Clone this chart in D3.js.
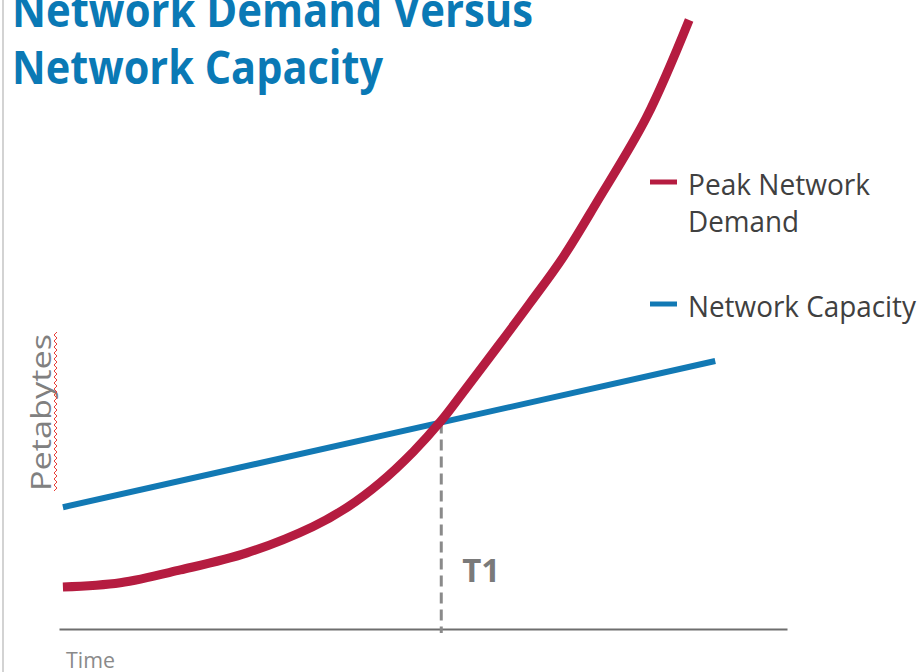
<!DOCTYPE html>
<html>
<head>
<meta charset="utf-8">
<script src="https://cdn.jsdelivr.net/npm/d3@7"></script>
<style>
  body { margin: 0; background: #fff; }
  text { font-family: "Open Sans", sans-serif; }
</style>
</head>
<body>
<div id="canvas"></div>
<script>
"use strict";

/* ===============================
   Data */
let timeValues   = [0, 8.8, 18.0, 28.2, 38.3, 43.6, 48.6, 53.7, 58.0, 61.3, 66.6, 71.6, 76.7, 81.8, 89.5, 96.0];
let demandValues = [6.9, 7.6, 9.7, 12.5, 16.8, 20.0, 24.0, 29.1, 34.2, 38.8, 46.3, 53.5, 61.1, 70.0, 84.1, 100];
let capacityTimes  = [0, 100];
let capacityValues = [20.0, 44.0];
let crossTime = 58.0;
let axisExtent = [-0.6, 111];

/* ===============================
   Configuration */
let svgWidth = 921;
let svgHeight = 672;
let red = "#b51c40";
let blue = "#1279b4";

let svg = d3.select("#canvas")
  .append("svg")
  .attr("width", svgWidth)
  .attr("height", svgHeight);

/* Left page edge */
svg.append("line")
  .attr("x1", 3).attr("x2", 3)
  .attr("y1", 0).attr("y2", svgHeight)
  .attr("stroke", "#c4c4c4")
  .attr("stroke-width", 1.5);

/* Scales */
let xScale = d3.scaleLinear()
  .domain(axisExtent)
  .range([59, 787]);

let yScale = d3.scaleLinear()
  .domain([0, 100])
  .range([629, 20]);

/* Helper: text squeezed to a measured width */
function fitText(sel, width) {
  sel.attr("textLength", width).attr("lengthAdjust", "spacingAndGlyphs");
  return sel;
}

/* Title */
fitText(svg.append("text")
  .attr("x", 12).attr("y", 27)
  .attr("font-size", 47).attr("font-weight", 700)
  .attr("fill", "#0a79b5")
  .text("Network Demand Versus"), 521);

fitText(svg.append("text")
  .attr("x", 12).attr("y", 84)
  .attr("font-size", 47).attr("font-weight", 700)
  .attr("fill", "#0a79b5")
  .text("Network Capacity"), 371);

/* X axis (no ticks) */
svg.append("g")
  .attr("transform", "translate(0," + yScale(0) + ")")
  .call(d3.axisBottom(xScale).tickValues([]).tickSizeOuter(0))
  .call(function (g) {
    g.select(".domain").attr("stroke", "#6e6e6e").attr("stroke-width", 2);
  });

/* Dashed T1 marker */
let crossY = yScale(capacityValues[0] + (capacityValues[1] - capacityValues[0]) * crossTime / 100);
svg.append("line")
  .attr("x1", xScale(crossTime)).attr("x2", xScale(crossTime))
  .attr("y1", crossY).attr("y2", yScale(0) + 4)
  .attr("stroke", "#8a8a8a")
  .attr("stroke-width", 3)
  .attr("stroke-dasharray", "11,6");

svg.append("text")
  .attr("x", xScale(crossTime) + 21)
  .attr("y", 582)
  .attr("font-size", 33).attr("font-weight", 700)
  .attr("fill", "#7a7a7a")
  .text("T1");

/* Capacity line */
let capData = capacityTimes.map(function (t, i) { return { t: t, v: capacityValues[i] }; });
let lineGen = d3.line()
  .x(function (d) { return xScale(d.t); })
  .y(function (d) { return yScale(d.v); });

svg.append("path")
  .datum(capData)
  .attr("d", lineGen)
  .attr("fill", "none")
  .attr("stroke", blue)
  .attr("stroke-width", 6);

/* Demand curve */
let demData = timeValues.map(function (t, i) { return { t: t, v: demandValues[i] }; });
svg.append("path")
  .datum(demData)
  .attr("d", lineGen.curve(d3.curveCatmullRom.alpha(0.5)))
  .attr("fill", "none")
  .attr("stroke", red)
  .attr("stroke-width", 9);

/* Axis titles */
fitText(svg.append("text")
  .attr("transform", "translate(51,491) rotate(-90)")
  .attr("font-size", 27)
  .attr("fill", "#808080")
  .text("Petabytes"), 157);

/* spell-check squiggle under "Petabytes" */
let squiggle = d3.path();
squiggle.moveTo(54, 491);
for (let y = 491, k = 0; y > 333; y = y - 3, k = k + 1) {
  squiggle.lineTo(k % 2 === 0 ? 57 : 54, y - 3);
}
svg.append("path")
  .attr("d", squiggle.toString())
  .attr("fill", "none")
  .attr("stroke", "#e8403a")
  .attr("stroke-width", 1);

fitText(svg.append("text")
  .attr("x", 66).attr("y", 668)
  .attr("font-size", 22)
  .attr("fill", "#8a8a8a")
  .text("Time"), 49);

/* ===============================
   Legend */
let legendX = 650;
let legendItems = [
  { color: red,  lines: ["Peak Network", "Demand"], y: 182, widths: [182, 111] },
  { color: blue, lines: ["Network Capacity"], y: 304, widths: [228] }
];

for (let i = 0; i < legendItems.length; i = i + 1) {
  let item = legendItems[i];
  svg.append("line")
    .attr("x1", legendX).attr("x2", legendX + 27)
    .attr("y1", item.y).attr("y2", item.y)
    .attr("stroke", item.color)
    .attr("stroke-width", 5);

  for (let j = 0; j < item.lines.length; j = j + 1) {
    fitText(svg.append("text")
      .attr("x", legendX + 38)
      .attr("y", item.y + 13 + j * 37)
      .attr("font-size", 30)
      .attr("fill", "#404040")
      .text(item.lines[j]), item.widths[j]);
  }
}
</script>
</body>
</html>
